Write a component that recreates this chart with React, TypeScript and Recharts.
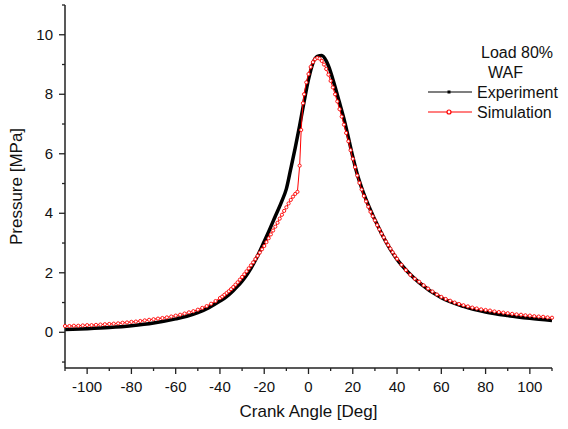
import React from "react";
import { LineChart, Line, XAxis, YAxis, Legend } from "recharts";

const expAngle = [-110, -100, -90, -80, -70, -60, -55, -50, -45, -40, -37, -34, -32, -30, -28, -26, -24, -22, -20, -18, -15, -12, -10, -8, -6, -4, -2, 0, 2, 4, 6, 8, 10, 12, 14, 16, 18, 20, 22, 25, 30, 35, 40, 45, 50, 60, 70, 80, 90, 100, 110];
const expPressure = [0.09, 0.12, 0.16, 0.22, 0.31, 0.45, 0.54, 0.66, 0.83, 1.05, 1.2, 1.4, 1.55, 1.72, 1.92, 2.15, 2.42, 2.72, 3.05, 3.38, 3.9, 4.42, 4.82, 5.5, 6.2, 6.95, 7.75, 8.5, 9.05, 9.27, 9.3, 9.12, 8.75, 8.25, 7.72, 7.18, 6.55, 5.9, 5.32, 4.65, 3.78, 3.04, 2.45, 2.02, 1.67, 1.16, 0.87, 0.68, 0.56, 0.47, 0.4];

// simulated curve
const simAngle = [
  -110, -108, -106, -104, -102, -100, -98, -96, -94, -92, -90, -88, -86, -84, -82, -80, -78, -76, -74, -72,
  -70, -68, -66, -64, -62, -60, -58, -56, -54, -52, -50, -48, -46, -44, -42, -40,
  -39, -38, -37, -36, -35, -34, -33, -32, -31, -30, -29, -28, -27, -26, -25, -24, -23, -22, -21, -20,
  -19, -18, -17, -16, -15, -14, -13, -12, -11, -10, -9, -8, -7, -6, -5,
  -4, -3.3, -2.5, -2, -1,
  0, 1, 2, 3, 4, 5, 6, 7, 8, 9, 10, 11, 12, 13, 14, 15, 16, 17, 18, 19, 20,
  21, 22, 23, 24, 25, 26, 27, 28, 29, 30, 31, 32, 33, 34, 35, 36, 37, 38, 39, 40,
  42, 44, 46, 48, 50, 52, 54, 56, 58, 60, 62, 64, 66, 68, 70, 72, 74, 76, 78, 80,
  82, 84, 86, 88, 90, 92, 94, 96, 98, 100, 102, 104, 106, 108, 110,
];
const simPressure = [
  0.21, 0.21, 0.22, 0.22, 0.23, 0.24, 0.24, 0.25, 0.26, 0.27, 0.28, 0.29, 0.3, 0.32, 0.33, 0.35, 0.36, 0.38, 0.4, 0.42,
  0.44, 0.46, 0.48, 0.5, 0.53, 0.56, 0.59, 0.63, 0.67, 0.71, 0.76, 0.82, 0.88, 0.96, 1.05, 1.15,
  1.2, 1.26, 1.32, 1.38, 1.45, 1.52, 1.6, 1.68, 1.77, 1.86, 1.95, 2.05, 2.15, 2.25, 2.35, 2.46, 2.57, 2.68, 2.79, 2.9,
  3.03, 3.16, 3.29, 3.42, 3.55, 3.68, 3.82, 3.95, 4.08, 4.2, 4.33, 4.45, 4.56, 4.65, 4.72,
  5.6, 6.8, 7.7, 8.0, 8.4,
  8.68, 8.92, 9.08, 9.18, 9.22, 9.2, 9.12, 9.0, 8.85, 8.66, 8.45, 8.23, 8.0, 7.76, 7.5, 7.25, 6.98, 6.7, 6.42, 6.12, 5.83,
  5.55, 5.27, 5.02, 4.8, 4.58, 4.4, 4.22, 4.05, 3.9, 3.76, 3.6, 3.46, 3.32, 3.19, 3.05, 2.93, 2.81, 2.69, 2.58, 2.47,
  2.27, 2.09, 1.93, 1.8, 1.7, 1.58, 1.47, 1.37, 1.27, 1.19, 1.12, 1.06, 1.0, 0.95, 0.91, 0.87, 0.83, 0.8, 0.77, 0.75,
  0.73, 0.7, 0.68, 0.66, 0.64, 0.62, 0.6, 0.59, 0.57, 0.56, 0.54, 0.53, 0.52, 0.5, 0.49,
];

const xTicks = [-110, -100, -90, -80, -70, -60, -50, -40, -30, -20, -10, 0, 10, 20, 30, 40, 50, 60, 70, 80, 90, 100, 110];
const yTicks = [-1, 0, 1, 2, 3, 4, 5, 6, 7, 8, 9, 10, 11];

const expData = expAngle.map((a, i) => ({ angle: a, p: expPressure[i] }));
const simData = simAngle.map((a, i) => ({ angle: a, p: simPressure[i] }));

const AXIS = "#222";
const TEXT = "#111";

const XTick = (props: any) => {
  const { x, y, payload } = props;
  const major = payload.value % 20 === 0;
  return (
    <g>
      <line x1={x} y1={y} x2={x} y2={y + (major ? 6 : 3)} stroke={AXIS} strokeWidth={1.3} />
      {major && (
        <text x={x} y={y + 24} textAnchor="middle" fontSize={15} fill={TEXT}>
          {payload.value}
        </text>
      )}
    </g>
  );
};

const YTick = (props: any) => {
  const { x, y, payload } = props;
  const major = payload.value % 2 === 0;
  return (
    <g>
      <line x1={x} y1={y} x2={x - (major ? 6 : 3)} y2={y} stroke={AXIS} strokeWidth={1.3} />
      {major && (
        <text x={x - 12} y={y + 5} textAnchor="end" fontSize={15} fill={TEXT}>
          {payload.value}
        </text>
      )}
    </g>
  );
};

const LegendBox = () => (
  <svg width={148} height={110} style={{ overflow: "visible" }}>
    <text x={61} y={18} fontSize={16} fill={TEXT}>Load 80%</text>
    <text x={68} y={38} fontSize={16} fill={TEXT}>WAF</text>
    <line x1={8} y1={52} x2={52} y2={52} stroke="#000" strokeWidth={1.2} />
    <rect x={27.5} y={50.5} width={3} height={3} fill="#000" />
    <text x={57} y={58} fontSize={16} fill={TEXT}>Experiment</text>
    <line x1={8} y1={72} x2={52} y2={72} stroke="#ff0000" strokeWidth={1.2} />
    <circle cx={29} cy={72} r={2} fill="#fff" stroke="#ff0000" strokeWidth={1.2} />
    <text x={57} y={78} fontSize={16} fill={TEXT}>Simulation</text>
  </svg>
);

export default function App() {
  return (
    <div style={{ position: "absolute", left: 0, top: 0, fontFamily: "'Liberation Sans', Arial, sans-serif" }}>
      <LineChart width={568} height={429} margin={{ top: 5, right: 16, bottom: 0, left: 0 }}>
        <XAxis
          dataKey="angle"
          type="number"
          domain={[-110, 110]}
          ticks={xTicks}
          interval={0}
          height={61}
          tickSize={0}
          tickMargin={0}
          tickLine={false}
          tick={<XTick />}
          axisLine={{ stroke: AXIS, strokeWidth: 1.5 }}
          allowDuplicatedCategory={false}
          label={{ value: "Crank Angle [Deg]", position: "insideBottom", offset: 12, fontSize: 17, fill: TEXT }}
        />
        <YAxis
          type="number"
          domain={[-1.2, 11]}
          ticks={yTicks}
          interval={0}
          width={65}
          tickSize={0}
          tickMargin={0}
          tickLine={false}
          tick={<YTick />}
          axisLine={{ stroke: AXIS, strokeWidth: 1.5 }}
          label={{ value: "Pressure [MPa]", angle: -90, position: "insideLeft", offset: 16, fontSize: 17, fill: TEXT, style: { textAnchor: "middle" } }}
        />
        <Legend
          layout="horizontal"
          align="center"
          verticalAlign="middle"
          wrapperStyle={{ left: 420, top: 40, width: 148, height: 110 }}
          content={() => <LegendBox />}
        />
        <Line
          data={expData}
          dataKey="p"
          name="Experiment"
          type="monotone"
          stroke="#000"
          strokeWidth={3.5}
          dot={false}
          isAnimationActive={false}
        />
        <Line
          data={simData}
          dataKey="p"
          name="Simulation"
          type="linear"
          stroke="#ff0000"
          strokeWidth={1}
          dot={{ r: 1.6, stroke: "#ff0000", strokeWidth: 0.9, fill: "#fff" }}
          isAnimationActive={false}
        />
      </LineChart>
    </div>
  );
}
